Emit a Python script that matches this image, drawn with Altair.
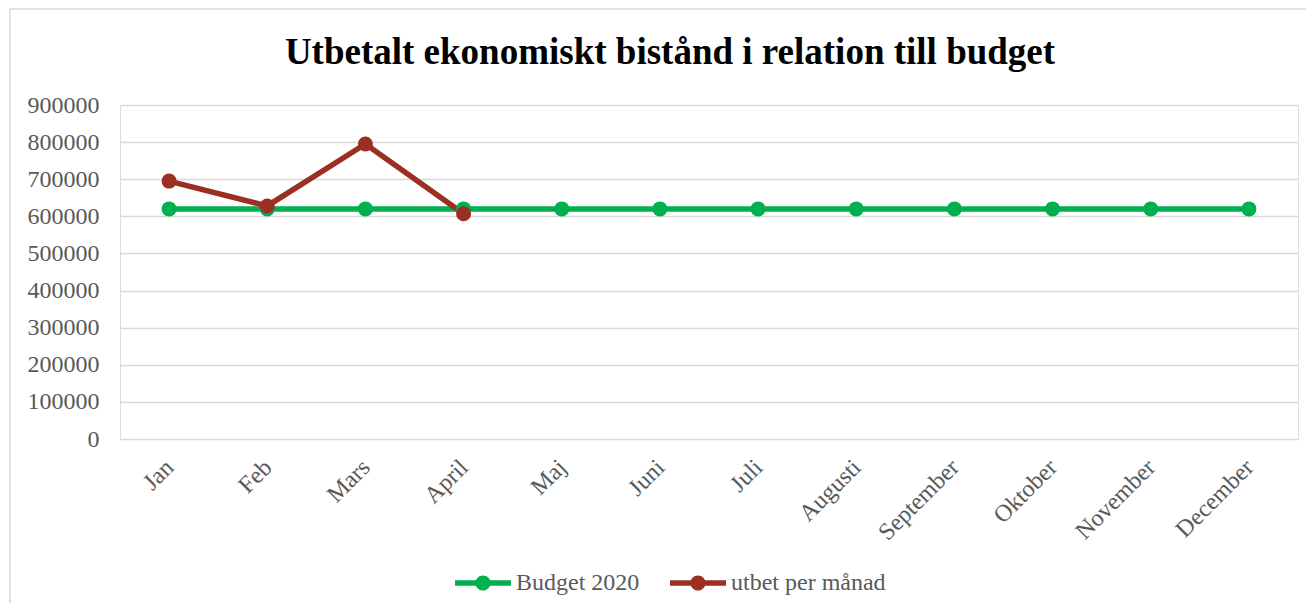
import altair as alt
import pandas as pd

months = ["Jan", "Feb", "Mars", "April", "Maj", "Juni", "Juli", "Augusti",
          "September", "Oktober", "November", "December"]
budget = [620000] * 12
utbet = [695000, 628000, 795000, 607000]
series = ["Budget 2020", "utbet per månad"]
colors = ["#00B050", "#9B2F22"]

rows = []
for m, v in zip(months, budget):
    rows.append({"month": m, "value": v, "series": series[0], "order": 0})
for m, v in zip(months, utbet):
    rows.append({"month": m, "value": v, "series": series[1], "order": 1})
df = pd.DataFrame(rows)

W, H = 1178, 334
FONT = "Liberation Serif"

x = alt.X("month:N", sort=months, title=None,
          axis=alt.Axis(labelAngle=-45, labelFontSize=24, labelFont=FONT,
                        labelColor="#595959", ticks=False, domain=False,
                        labelPadding=16, labelOffset=-8, grid=False))
y = alt.Y("value:Q", title=None,
          scale=alt.Scale(domain=[0, 900000], nice=False),
          axis=alt.Axis(values=list(range(0, 900001, 100000)), format="d",
                        labelFontSize=24, labelFont=FONT, labelColor="#595959",
                        ticks=False, domain=False, labelPadding=21,
                        gridColor="#D9D9D9", gridWidth=1.5))

sym = ("M-1,-0.1L1,-0.1L1,0.1L-1,0.1Z "
       "M-0.27,0A0.27,0.27 0 1,1 0.27,0A0.27,0.27 0 1,1 -0.27,0Z")

legend = alt.Legend(orient="none", direction="horizontal",
                    legendX=335, legendY=450, title=None,
                    symbolType=sym, symbolSize=3136,
                    symbolStrokeWidth=0, labelFont=FONT,
                    labelFontSize=24, labelColor="#595959",
                    labelOffset=5, columnPadding=30,
                    symbolOpacity=1)
color = alt.Color("series:N", scale=alt.Scale(domain=series, range=colors),
                  legend=legend)

lines = alt.Chart(df).mark_line(strokeWidth=5.5).encode(
    x=x, y=y, color=color, detail="series:N", order="order:Q")

points = alt.Chart(df).mark_point(filled=True, size=225, opacity=1).encode(
    x=x, y=y, color=color, order="order:Q")

frame_top = alt.Chart(pd.DataFrame({"a": [0]})).mark_rule(
    color="#D9D9D9", strokeWidth=1.5).encode(
    x=alt.value(-110), x2=alt.value(W + 8), y=alt.value(-96))
frame_left = alt.Chart(pd.DataFrame({"a": [0]})).mark_rule(
    color="#D9D9D9", strokeWidth=1.5).encode(
    x=alt.value(-110), y=alt.value(-96), y2=alt.value(H + 164))

chart = alt.layer(frame_top, frame_left, lines, points).properties(
    width=W, height=H,
    title=alt.TitleParams("Utbetalt ekonomiskt bistånd i relation till budget",
                          font=FONT, fontSize=37, fontWeight="bold",
                          color="#000000", dx=-39, offset=-64),
    padding={"left": 1, "top": 0, "right": 0, "bottom": 0},
).configure_view(stroke=None).configure(background="white")

chart.save("out.html", embed_options={"renderer": "svg", "actions": False})
